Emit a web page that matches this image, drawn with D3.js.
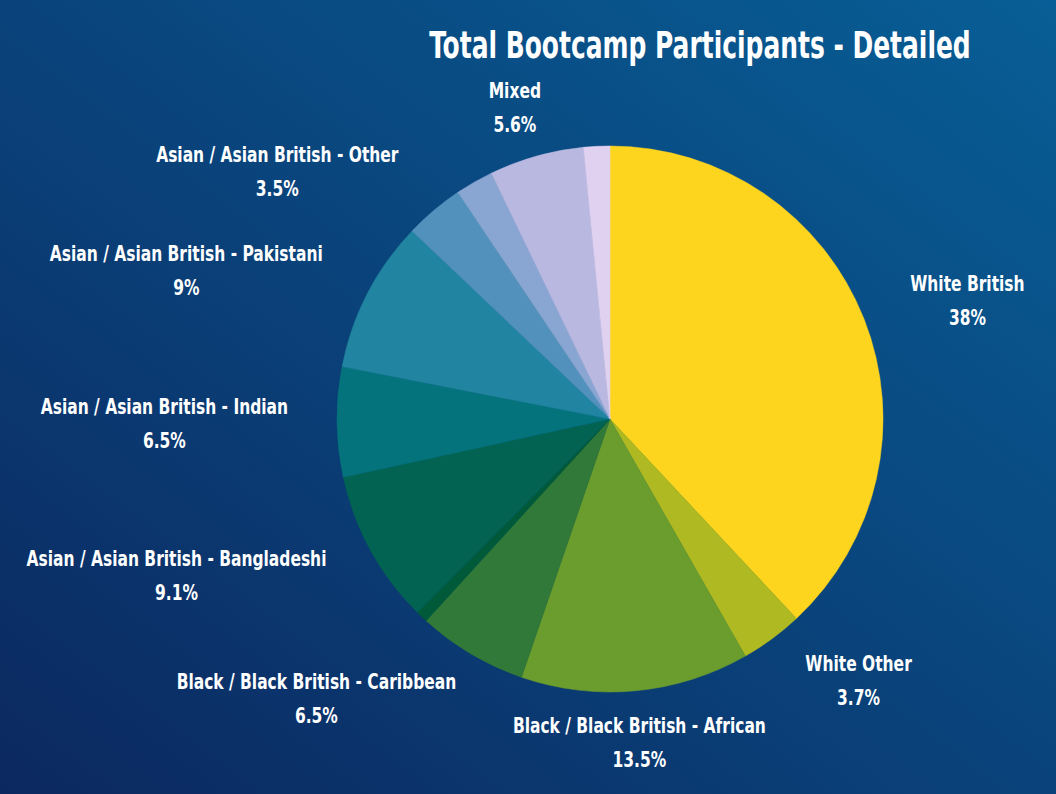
<!DOCTYPE html>
<html>
<head>
<meta charset="utf-8">
<script src="https://cdn.jsdelivr.net/npm/d3@7"></script>
<style>
  html, body { margin: 0; padding: 0; }
  body { width: 1056px; height: 794px; overflow: hidden; }
  text { font-family: "DejaVu Sans Condensed", "Liberation Sans", sans-serif; font-weight: bold; fill: #fff; }
</style>
</head>
<body>
<script>
// data (percent of participants), clockwise from 12 o'clock
var categories = [
  "White British", "White Other", "Black / Black British - African",
  "Black / Black British - Caribbean", "Black / Black British - Other",
  "Asian / Asian British - Bangladeshi", "Asian / Asian British - Indian",
  "Asian / Asian British - Pakistani", "Asian / Asian British - Other",
  "Other", "Mixed", "Prefer not to say"
];
var values = [38, 3.7, 13.5, 6.5, 0.7, 9.1, 6.5, 9, 3.5, 2.25, 5.6, 1.55];
var valueLabels = ["38%", "3.7%", "13.5%", "6.5%", "", "9.1%", "6.5%", "9%", "3.5%", "", "5.6%", ""];
var labelled = [true, true, true, true, false, true, true, true, true, false, true, false];
var colors = ["#fed51e", "#afba22", "#6a9c2e", "#317938", "#005a3a", "#036353",
              "#05737b", "#2184a1", "#5191bc", "#89a6d3", "#b9b8e1", "#e0d1f0"];

var width = 1056, height = 794;
var cx = 610, cy = 419, r = 273;
var squeeze = 0.82; //no condensed face installed, so narrow the text by hand

var svg = d3.select("body").append("svg").attr("width", width).attr("height", height);

//background gradient, dark navy bottom-left to brighter blue top-right
var grad = svg.append("defs").append("linearGradient")
  .attr("id", "bg").attr("x1", "0%").attr("y1", "100%").attr("x2", "100%").attr("y2", "0%");
grad.append("stop").attr("offset", "0%").attr("stop-color", "#0c2860");
grad.append("stop").attr("offset", "100%").attr("stop-color", "#085e96");
svg.append("rect").attr("width", width).attr("height", height).attr("fill", "url(#bg)");

svg.append("text")
  .attr("transform", "translate(700,58) scale(0.73,1)")
  .attr("text-anchor", "middle")
  .style("font-size", "38px")
  .text("Total Bootcamp Participants - Detailed");

var rows = values.map(function(v, i) {
  return { name: categories[i], value: v, pct: valueLabels[i], show: labelled[i], color: colors[i] };
});

var pie = d3.pie().sort(null).value(function(d) { return d.value; });
var arc = d3.arc().innerRadius(0).outerRadius(r);
var arcs = pie(rows);

var g = svg.append("g").attr("transform", "translate(" + cx + "," + cy + ")");

g.selectAll("path.slice")
  .data(arcs)
  .enter().append("path")
  .attr("class", "slice")
  .attr("d", arc)
  .attr("fill", function(d) { return d.data.color; })
  .attr("stroke", function(d) { return d.data.color; })
  .attr("stroke-width", 0.5);

//labels sit just outside the rim, pushed sideways by their own width
var labelR = 312;
var lab = g.selectAll("g.lab")
  .data(arcs.filter(function(d) { return d.data.show; }))
  .enter().append("g").attr("class", "lab");

lab.append("text")
  .attr("text-anchor", "middle")
  .attr("transform", "scale(" + squeeze + ",1)")
  .style("font-size", "21px")
  .each(function(d) {
    var t = d3.select(this);
    t.append("tspan").attr("x", 0).attr("y", -9).text(d.data.name);
    t.append("tspan").attr("x", 0).attr("y", 25).text(d.data.pct);
  });

lab.attr("transform", function(d) {
  var a = (d.startAngle + d.endAngle) / 2;
  var s = Math.sin(a), c = Math.cos(a);
  var w = this.getBBox().width;
  var f = Math.sign(s) * Math.max(0, Math.min(1, (Math.abs(s) - 0.15) / 0.4));
  var x = labelR * s + f * (w / 2 + 10);
  var y = -labelR * c - c * 12;
  return "translate(" + x + "," + y + ")";
});
</script>
</body>
</html>
